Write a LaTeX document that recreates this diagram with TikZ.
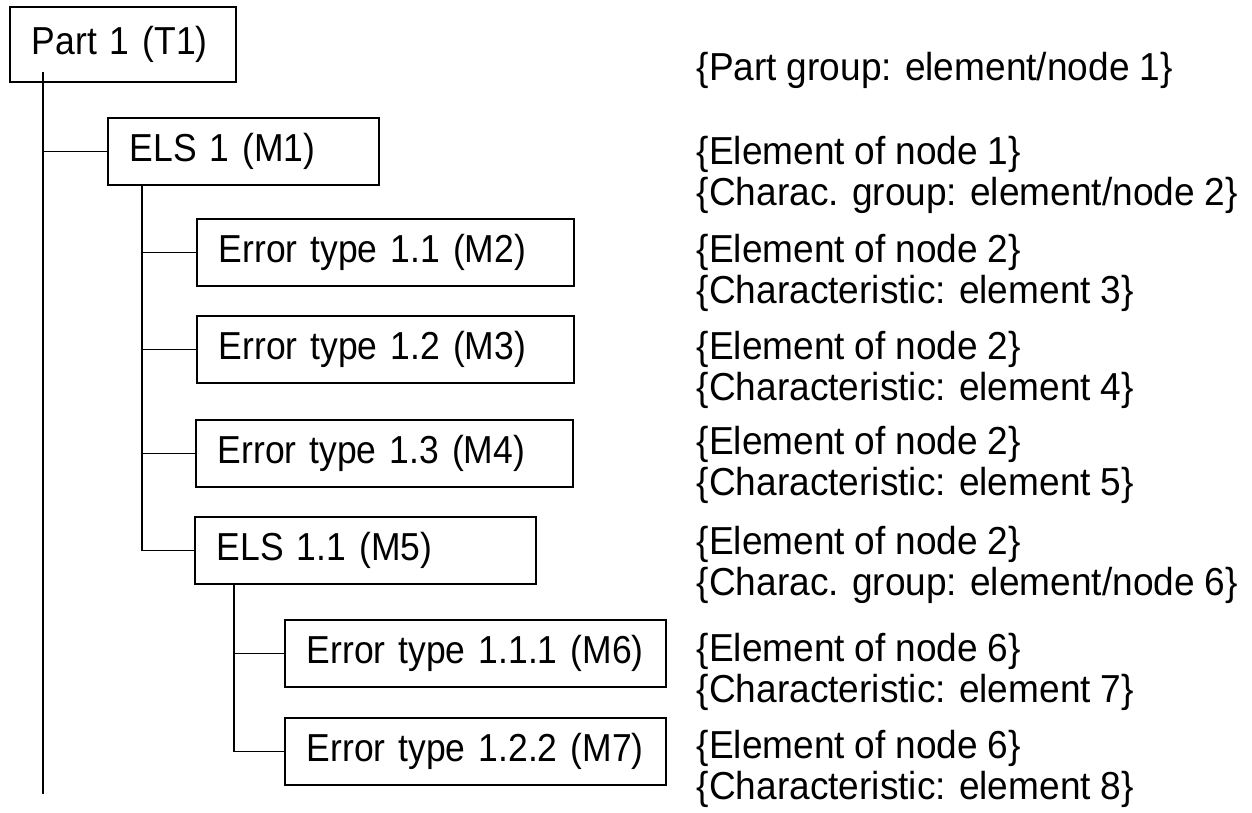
\documentclass[tikz,border=0pt]{standalone}
\usepackage{fontspec}
\setmainfont{Liberation Sans}
\newfontfamily\boxfont[FakeStretch=0.91,WordSpace=0.91]{Liberation Sans}
\newfontfamily\notefont[FakeStretch=0.95,WordSpace=0.95]{Liberation Sans}
\begin{document}
\begin{tikzpicture}[x=0.5pt,y=-0.5pt,line width=0.8pt,
	box/.style={draw, anchor=north west, align=left, inner xsep=11pt, inner ysep=0pt,
		text width=#1, minimum height=33.5pt, font=\boxfont\fontsize{19.5}{21}\selectfont},
	note/.style={anchor=base west, align=left, inner sep=0pt, font=\notefont\fontsize{19.5}{20.5}\selectfont}]
			\useasboundingbox (0,0) rectangle (1252,813);
			\node	(t1) at (9,6) [box=91pt, minimum height=37.5pt] {Part 1 (T1)};
			\node	(m1) at (107,117) [box=113.5pt] {ELS 1 (M1)};
			\node	(m2) at (196,218) [box=166.5pt] {Error type 1.1 (M2)};
			\node	(m3) at (196,315) [box=166.5pt] {Error type 1.2 (M3)};
			\node	(m4) at (195,419) [box=166.5pt] {Error type 1.3 (M4)};
			\node	(m5) at (194,516) [box=148.5pt] {ELS 1.1 (M5)};
			\node	(m6) at (284,619) [box=168.5pt] {Error type 1.1.1 (M6)};
			\node	(m7) at (284,717) [box=168.5pt] {Error type 1.2.2 (M7)};
			\node	(n1) at (696,81) [note] {\{Part group: element/node 1\}};
			\node	(n2) at (696,205) [note] {\{Element of node 1\}\\\{Charac. group: element/node 2\}};
			\node	(n3) at (696,303) [note] {\{Element of node 2\}\\\{Characteristic: element 3\}};
			\node	(n4) at (696,400) [note] {\{Element of node 2\}\\\{Characteristic: element 4\}};
			\node	(n5) at (696,495) [note] {\{Element of node 2\}\\\{Characteristic: element 5\}};
			\node	(n6) at (696,595) [note] {\{Element of node 2\}\\\{Charac. group: element/node 6\}};
			\node	(n7) at (696,702) [note] {\{Element of node 6\}\\\{Characteristic: element 7\}};
			\node	(n8) at (696,799) [note] {\{Element of node 6\}\\\{Characteristic: element 8\}};
			\coordinate (p0) at (43,72);
			\coordinate (p0e) at (43,794);
			\coordinate (p1) at (142,0);
			\coordinate (p2) at (234,0);
			\draw 
			(p0) -- (p0e)
			(p0 |- m1.west) -- (m1.west)
			(p1 |- m1.south) -- (p1 |- m5.west) -- (m5.west)
			(p1 |- m2.west) -- (m2.west)
			(p1 |- m3.west) -- (m3.west)
			(p1 |- m4.west) -- (m4.west)
			(p2 |- m5.south) -- (p2 |- m7.west) -- (m7.west)
			(p2 |- m6.west) -- (m6.west)
			;
		\end{tikzpicture}
\end{document}
